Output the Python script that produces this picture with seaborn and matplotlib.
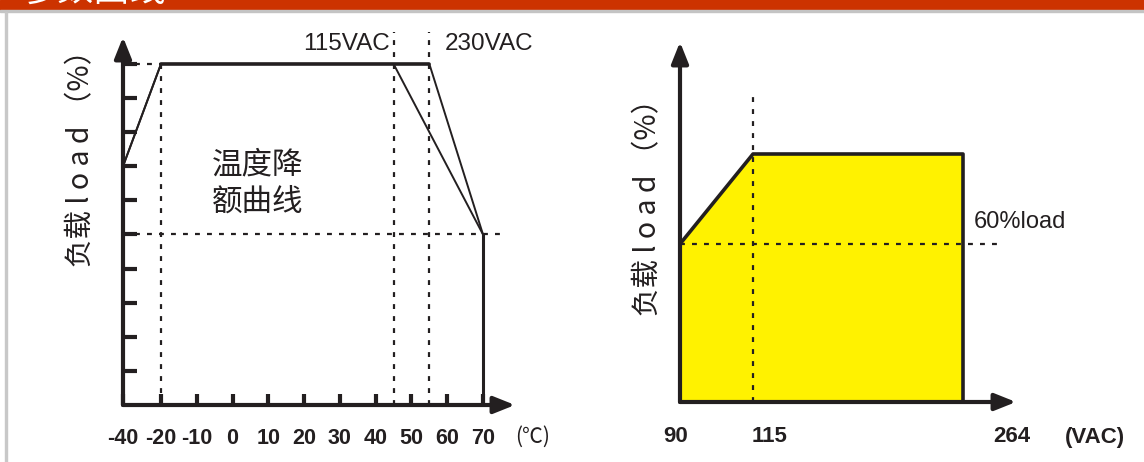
import matplotlib
matplotlib.use("Agg")
import matplotlib.pyplot as plt
from matplotlib.patches import Rectangle
import numpy as np
import seaborn as sns

# --- data ---
temp_ticks = [-40, -20, -10, 0, 10, 20, 30, 40, 50, 60, 70]
temp_tick_labels = [str(t) for t in temp_ticks]
load_ticks = [10, 20, 30, 40, 50, 60, 70, 80, 90, 100]

temp_115 = [-40, -20, 45, 70]
load_115 = [70, 100, 100, 50]
temp_230 = [-40, -20, 55, 70]
load_230 = [70, 100, 100, 50]
full_load_start = -20
derate_end_temp = 70
derate_end_load = 50

volt_ticks = [90, 115, 264]
volt_tick_labels = ["90", "115", "264"]
volt_curve = [90, 115, 264]
volt_load = [60, 100, 100]
low_line_load = 60

INK = "#231F20"
YELLOW = "#FFF200"
RED = "#CC3300"

sns.set_theme(style="white")
plt.rcParams["font.family"] = ["Noto Sans CJK SC", "DejaVu Sans"]
NARROW = ["Liberation Sans Narrow", "Liberation Sans", "DejaVu Sans"]
CJK = ["Noto Sans CJK SC", "DejaVu Sans"]


def piecewise(knots, px):
    """Scale functions for a schematic (not to scale) axis."""
    def fwd(v):
        return np.interp(v, knots, px)

    def inv(p):
        return np.interp(p, px, knots)
    return fwd, inv


def draw_axes_arrows(ax):
    for end in [(1, 0), (0, 1)]:
        ax.annotate("", xy=end, xytext=(0, 0), xycoords="axes fraction",
                    arrowprops=dict(arrowstyle="-|>,head_length=0.8,head_width=0.32",
                                    lw=3.0, color=INK, mutation_scale=16,
                                    shrinkA=0, shrinkB=0))
    for s in ax.spines.values():
        s.set_visible(False)


fig = plt.figure(figsize=(11.44, 4.62), dpi=100)
W, H = 1144, 462

# page decoration: red header bar, grey rule and border
fig.patches.append(Rectangle((0, 1 - 10 / H), 1, 10 / H, transform=fig.transFigure,
                             color=RED, zorder=0))
fig.patches.append(Rectangle((0, 1 - 12 / H), 1, 2 / H, transform=fig.transFigure,
                             color="#C4C4C4", zorder=0))
fig.patches.append(Rectangle((5 / W, 0), 2 / W, 1 - 12 / H, transform=fig.transFigure,
                             color="#C8C8C8", zorder=0))
# header title: only the bottom edge of it is on the page
fig.text(22 / W, 1 - 1 / H, "参数曲线", color="white", fontsize=26,
         family=CJK, va="baseline", ha="left")

# ---------------- left: temperature derating ----------------
ax1 = fig.add_axes([123 / W, 57 / H, 392 / W, 368 / H])
fx, ix = piecewise([-40, -20, 70, 120], [0, 38, 360, 539])
ax1.set_xscale("function", functions=(fx, ix))
ax1.set_xlim(-40, float(ix(392)))
ax1.set_ylim(0, 107.9)

dot = dict(color=INK, lw=1.6, linestyle=(0, (2.2, 3.2)))
ax1.hlines(100, -40, full_load_start, **dot)
ax1.vlines(full_load_start, 0, 100, **dot)
ax1.hlines(derate_end_load, -40, 74.7, **dot)
ax1.vlines([temp_115[2], temp_230[2]], 0, 109.5, clip_on=False, **dot)

sns.lineplot(x=temp_115, y=load_115, ax=ax1, color=INK, lw=1.4, sort=False,
             estimator=None)
sns.lineplot(x=temp_230, y=load_230, ax=ax1, color=INK, lw=1.4, sort=False,
             estimator=None)
sns.lineplot(x=temp_230[1:3], y=load_230[1:3], ax=ax1, color=INK, lw=2.6,
             sort=False, estimator=None)
ax1.vlines(derate_end_temp, 0, derate_end_load, color=INK, lw=2.2)

draw_axes_arrows(ax1)
ax1.set_xticks(temp_ticks)
ax1.set_xticklabels(temp_tick_labels, family=NARROW, fontweight="bold",
                    fontsize=15.5, color=INK)
ax1.set_yticks(load_ticks)
ax1.set_yticklabels([])
ax1.tick_params(axis="x", direction="in", length=8, width=3, color=INK, pad=16.5,
                bottom=True)
ax1.tick_params(axis="y", direction="in", length=10, width=3, color=INK, left=True)
ax1.annotate("(℃)", xy=(1.046, 0), xycoords="axes fraction", xytext=(0, -23),
             textcoords="offset points", ha="center", va="center", fontsize=15,
             family=CJK, color=INK)

ax1.annotate("115VAC", xy=(temp_115[2], 105.9), xytext=(-3, 0),
             textcoords="offset points", ha="right", va="center", fontsize=17.5,
             family=NARROW, color=INK)
ax1.annotate("230VAC", xy=(temp_230[2], 105.9), xytext=(11, 0),
             textcoords="offset points", ha="left", va="center", fontsize=17.5,
             family=NARROW, color=INK)
ax1.text(7, 65, "温度降\n额曲线", ha="center", va="center", fontsize=22,
         family=CJK, color=INK, linespacing=1.25)
ax1.set_xlabel("")
ax1.set_ylabel("")

# ---------------- right: input voltage derating ----------------
ax2 = fig.add_axes([680 / W, 60 / H, 336 / W, 360 / H])
gx, jx = piecewise([90, 115, 264, 400], [0, 73, 283, 474.6])
gy, jy = piecewise([0, 60, 100, 200], [0, 158, 248, 473])
ax2.set_xscale("function", functions=(gx, jx))
ax2.set_yscale("function", functions=(gy, jy))
ax2.set_xlim(90, float(jx(336)))
ax2.set_ylim(0, float(jy(360)))

ax2.fill_between(volt_curve, volt_load, 0, color=YELLOW, lw=0, zorder=1)
sns.lineplot(x=volt_curve + [volt_curve[-1]], y=volt_load + [0], ax=ax2,
             color=INK, lw=2.6, sort=False, estimator=None, zorder=3)
ax2.vlines(volt_curve[1], 0, 128.4, zorder=2, **dot)
ax2.hlines(low_line_load, 90, 288, zorder=2, **dot)

draw_axes_arrows(ax2)
ax2.set_xticks([])
ax2.set_yticks([])
label_dx = [-4, 17, 49]
for v, lab, dx in zip(volt_ticks, volt_tick_labels, label_dx):
    ax2.annotate(lab, xy=(v, 0), xycoords=("data", "axes fraction"),
                 xytext=(dx * 0.72, -35 * 0.72), textcoords="offset points",
                 ha="center", va="center", fontsize=16, fontweight="bold",
                 family=NARROW, color=INK)
ax2.annotate("(VAC)", xy=(1.235, 0), xycoords="axes fraction",
             xytext=(0, -35 * 0.72), textcoords="offset points", ha="center",
             va="center", fontsize=16, fontweight="bold", family=NARROW, color=INK)
ax2.annotate("60%load", xy=(volt_curve[-1], low_line_load), xytext=(7.5, 16),
             textcoords="offset points", ha="left", va="center", fontsize=17,
             family=NARROW, color=INK)
ax2.set_xlabel("")
ax2.set_ylabel("")

# rotated y labels
ylab = "负载 l o a d （%）"
fig.text(81 / W, 1 - 151 / H, ylab, rotation=90, ha="center", va="center",
         fontsize=20.5, family=CJK, color=INK)
fig.text(648 / W, 1 - 200 / H, ylab, rotation=90, ha="center", va="center",
         fontsize=20.5, family=CJK, color=INK)

fig.savefig("out.png", dpi=100)
